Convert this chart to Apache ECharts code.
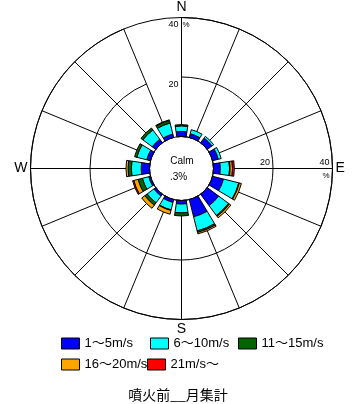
<!DOCTYPE html>
<html><head><meta charset="utf-8">
<script src="https://cdn.jsdelivr.net/npm/echarts@6/dist/echarts.min.js"></script>
<style>html,body{margin:0;padding:0;background:#fff}#c{width:356px;height:404px}</style>
</head><body><div id="c"></div>
<script>
// ---- data ----
const directions = ['N','NNE','NE','ENE','E','ESE','SE','SSE','S','SSW','SW','WSW','W','WNW','NW','NNW'];
const dirLabels  = ['N','','','','E','','','','S','','','','W','','',''];
const speedClasses = ['1～5m/s','6～10m/s','11～15m/s','16～20m/s','21m/s～'];
const speed1to5   = [1.7,1.3,2.0,2.0,2.3,3.8,4.8,6.0,1.2,1.0,0.8,0.6,2.8,1.3,1.5,1.2];
const speed6to10  = [1.9,1.4,0.7,1.0,3.1,5.3,4.1,4.9,3.0,2.6,2.8,2.2,3.3,3.4,3.9,3.8];
const speed11to15 = [0.1,0,0,0,0.2,0.2,0.4,0.5,1.0,0.2,1.0,1.5,1.1,0.8,0.8,0.9];
const speed16to20 = [0.3,0,0,0,0.8,0.7,0.6,0.5,0,1.3,1.3,1.5,0.7,0,0,0.2];
const speed21up   = [0,0,0,0,0.6,0,0,0,0,0,0,0.4,0,0,0,0];
const radiusTicks = [0,20,40];
const calmLabel = 'Calm';
const calmValue = '.3%';
const unitLabel = '%';
const titleText = '噴火前__月集計';

// ---- styles / layout ----
const seriesValues = [speed1to5, speed6to10, speed11to15, speed16to20, speed21up];
const colors = ['#0000ff','#00ffff','#006400','#ffa500','#ff0000'];
const legendPos = [[61,337],[150,337],[238,337],[61,358],[147,358]];
const FONT = "'Liberation Sans','Noto Sans CJK JP',sans-serif";
const C = [181.5,168.5];
const R = [32,151];

const chart = echarts.init(document.getElementById('c'), null, {renderer:'canvas'});
chart.setOption({
  animation:false,
  backgroundColor:'#fff',
  title:{text:titleText, left:'center', top:383,
    textStyle:{fontSize:14, fontWeight:'normal', color:'#000', fontFamily:"'Noto Sans CJK JP',sans-serif"}},
  polar:[{center:C, radius:R},{center:C, radius:R}],
  angleAxis:[
    {polarIndex:0, type:'category', data:directions, boundaryGap:false, startAngle:90, clockwise:true,
     axisLine:{show:true, lineStyle:{color:'#000', width:1}},
     axisTick:{show:false},
     axisLabel:{interval:0, formatter:(v,i)=>dirLabels[i], color:'#000', fontSize:14, margin:3, fontFamily:FONT},
     splitLine:{show:true, interval:0, lineStyle:{color:'#000', width:1}}},
    {polarIndex:1, type:'value', min:0, max:360, startAngle:0, show:false}
  ],
  radiusAxis:[
    {polarIndex:0, min:radiusTicks[0], max:radiusTicks[2], interval:radiusTicks[1]-radiusTicks[0],
     axisLine:{show:false}, axisTick:{show:false},
     axisLabel:{formatter:v=>v===0?'':String(v), color:'#000', fontSize:9, fontFamily:FONT,
       margin:3, verticalAlign:'top', padding:[3,0,0,0]},
     splitLine:{show:true, lineStyle:{color:'#000', width:1}}},
    {polarIndex:1, min:radiusTicks[0], max:radiusTicks[2], interval:radiusTicks[1]-radiusTicks[0],
     axisLine:{show:false}, axisTick:{show:false}, splitLine:{show:false},
     axisLabel:{formatter:v=>v===0?'':String(v), color:'#000', fontSize:9, fontFamily:FONT,
       margin:1, align:'right', padding:[0,3,0,0]}}
  ],
  legend: speedClasses.map((name,k)=>({
    data:[name], left:legendPos[k][0], top:legendPos[k][1], padding:0,
    itemWidth:18, itemHeight:11, icon:'rect', selectedMode:false,
    itemStyle:{borderColor:'#000', borderWidth:1},
    textStyle:{fontSize:13, color:'#000', fontFamily:FONT}
  })),
  graphic:[
    {type:'text', x:C[0]+0.5, y:C[1]-7,
     style:{text:calmLabel, fontSize:10, fontFamily:FONT, fill:'#000', align:'center', verticalAlign:'middle'}},
    {type:'text', x:C[0]-3, y:C[1]+9,
     style:{text:calmValue, fontSize:10, fontFamily:FONT, fill:'#000', align:'center', verticalAlign:'middle'}},
    {type:'text', x:C[0]+1, y:21,
     style:{text:unitLabel, fontSize:8, fontFamily:FONT, fill:'#000', align:'left', verticalAlign:'top'}},
    {type:'text', x:326, y:172,
     style:{text:unitLabel, fontSize:8, fontFamily:FONT, fill:'#000', align:'center', verticalAlign:'top'}}
  ],
  series: speedClasses.map((name,k)=>({
    type:'bar', coordinateSystem:'polar', polarIndex:0, name, stack:'wind',
    data: seriesValues[k].map(v=>v>0?v:'-'),
    barWidth:'75%',
    itemStyle:{color:colors[k], borderColor:'#000', borderWidth:1},
    z:3
  }))
});
</script></body></html>
